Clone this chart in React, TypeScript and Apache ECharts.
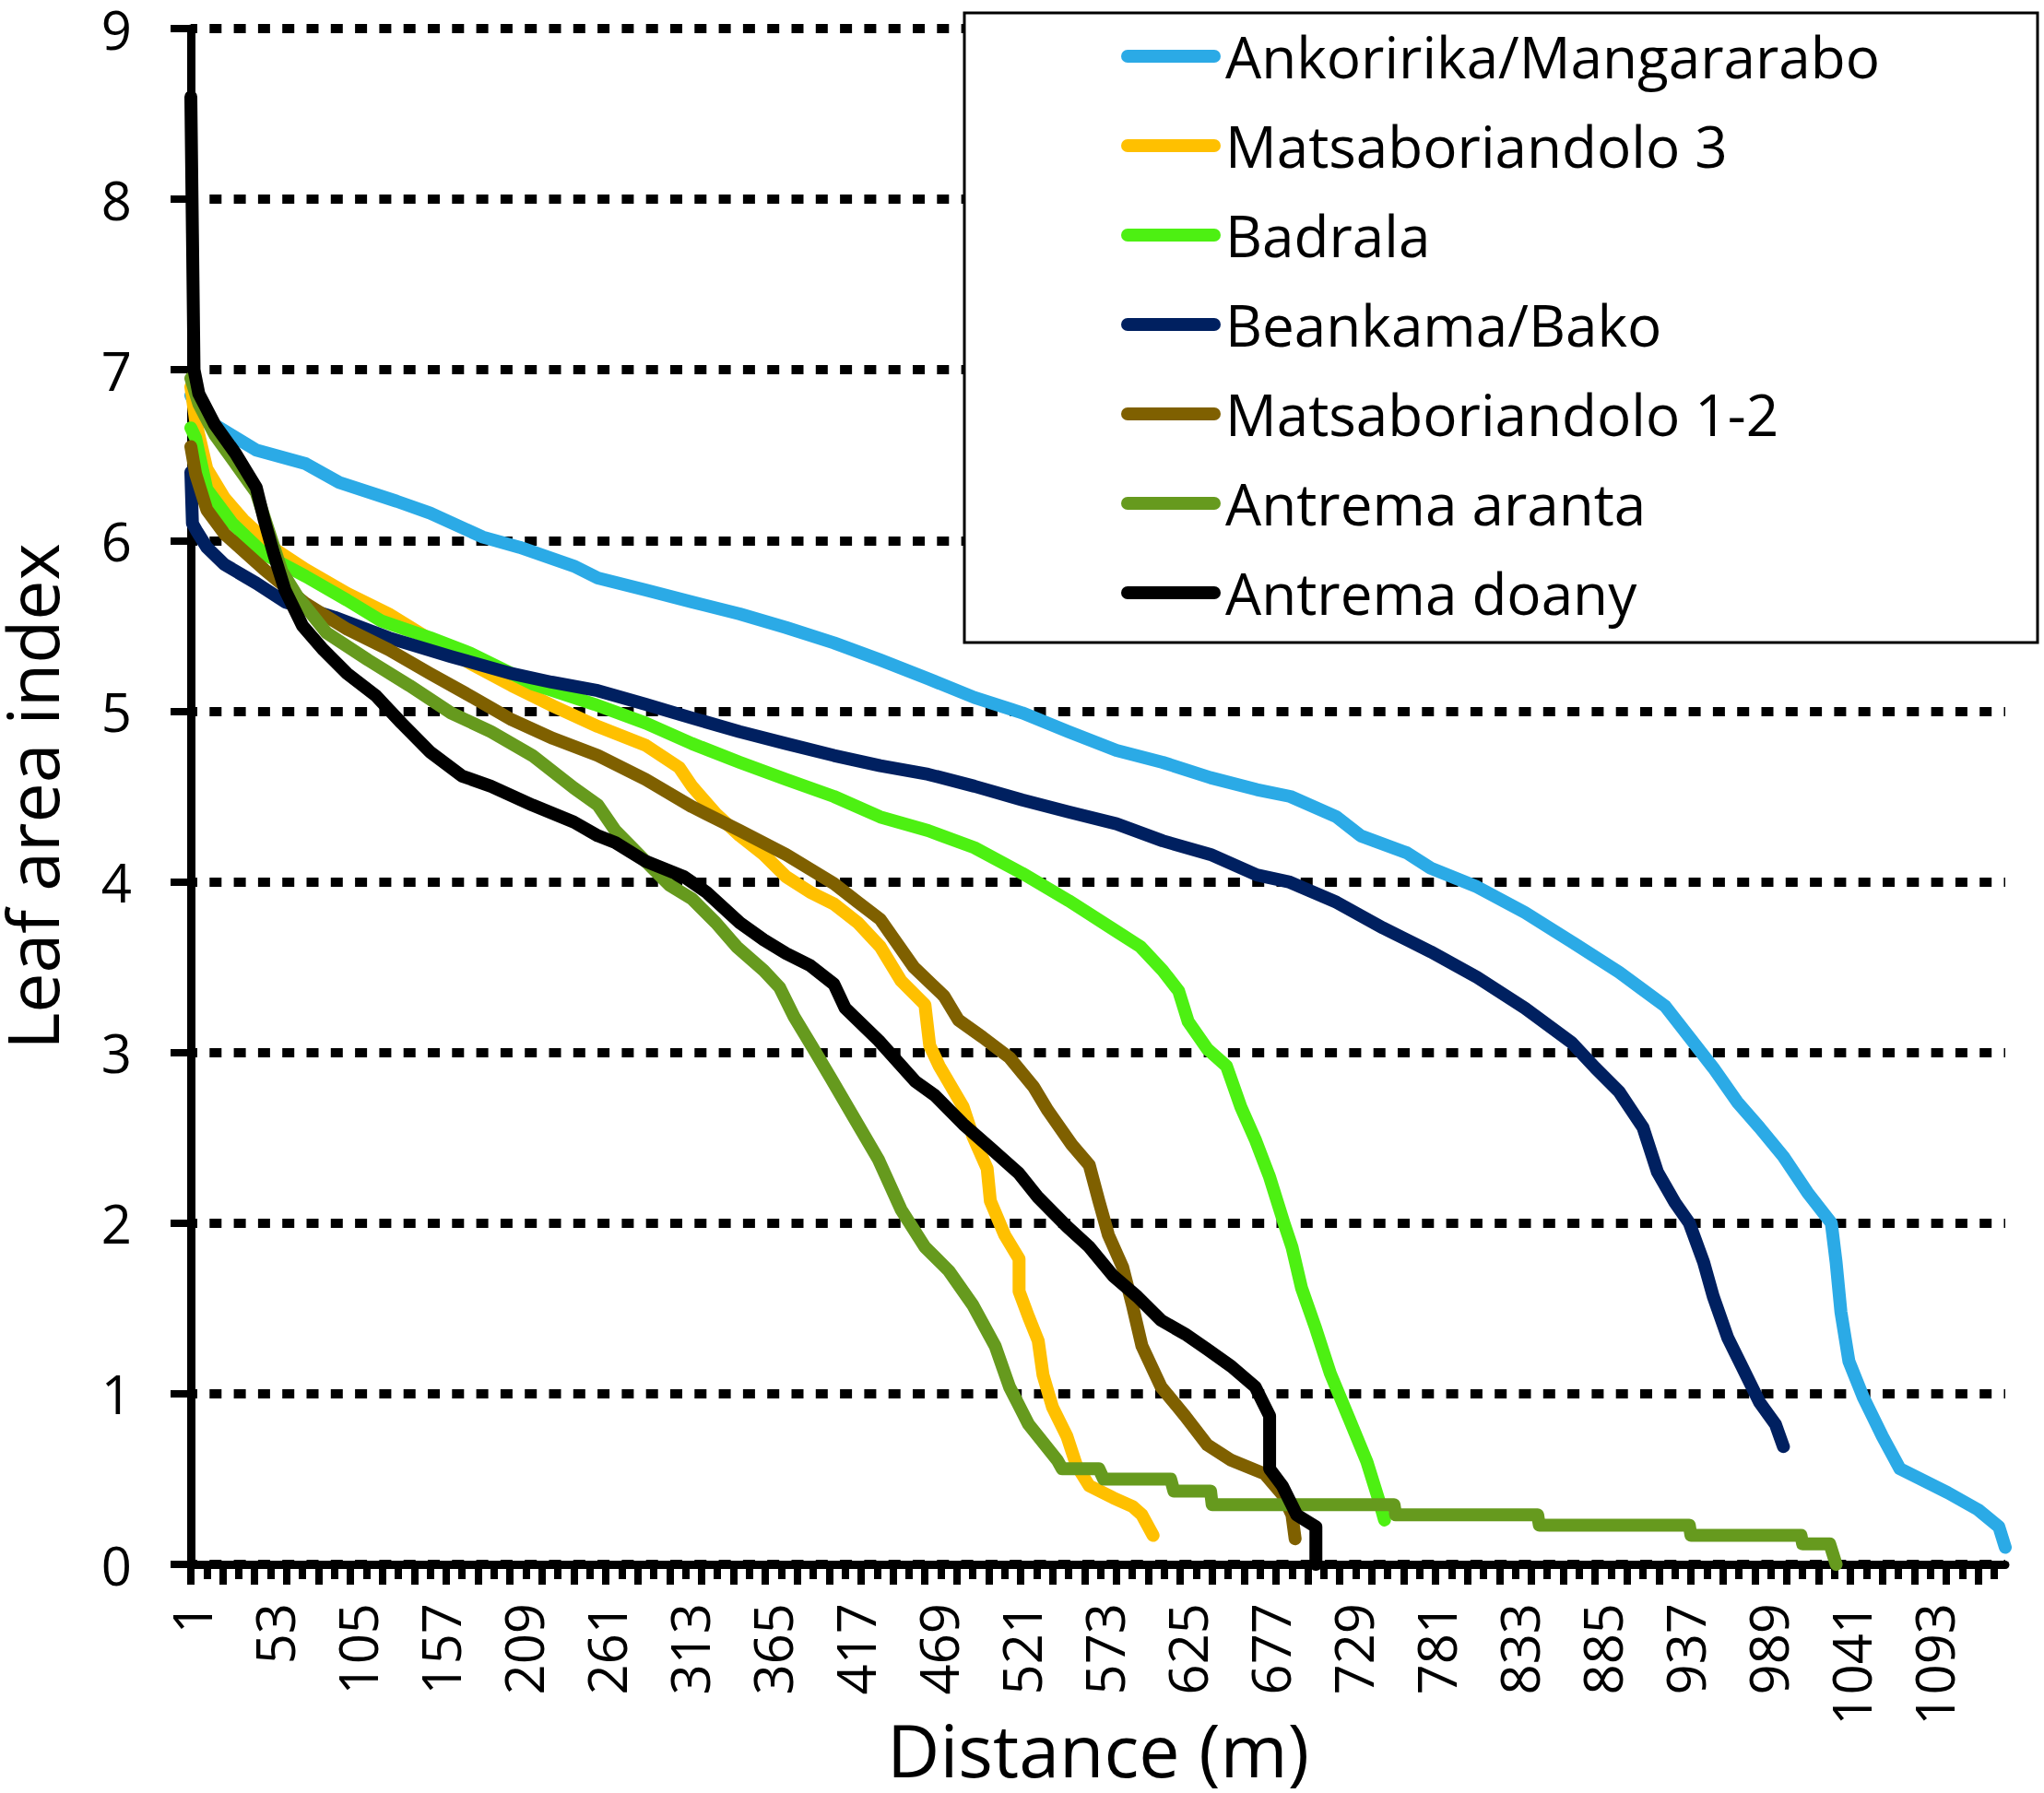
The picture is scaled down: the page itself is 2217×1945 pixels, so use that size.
import React, { useEffect, useRef } from "react";
import * as echarts from "echarts";

const FONT = "'Open Sans', 'Noto Sans', sans-serif";
const CATEGORY_COUNT = 1138;
const distances: string[] = Array.from({ length: CATEGORY_COUNT }, (_, i) => String(i + 1));

const seriesNames = [
  "Ankoririka/Mangararabo",
  "Matsaboriandolo 3",
  "Badrala",
  "Beankama/Bako",
  "Matsaboriandolo 1-2",
  "Antrema aranta",
  "Antrema doany",
];
const seriesColors = ["#2BAAE6", "#FFC000", "#4DF012", "#002060", "#7F6000", "#669A1E", "#000000"];

const ankoririka: [number, number][] = [
  [1, 6.85], [8, 6.72], [19, 6.66], [42, 6.53], [73, 6.45], [94, 6.34], [130, 6.23], [151, 6.16],
  [184, 6.02], [207, 5.96], [241, 5.85], [256, 5.78], [286, 5.71], [315, 5.64], [345, 5.57],
  [374, 5.49], [404, 5.4], [433, 5.3], [463, 5.19], [492, 5.08], [522, 4.99], [551, 4.88],
  [581, 4.77], [610, 4.7], [640, 4.61], [669, 4.54], [690, 4.5], [719, 4.38], [734, 4.27],
  [763, 4.17], [778, 4.08], [807, 3.97], [837, 3.82], [866, 3.65], [896, 3.47], [925, 3.27],
  [940, 3.09], [955, 2.91], [970, 2.71], [984, 2.56], [999, 2.39], [1014, 2.18], [1029, 2.0],
  [1032, 1.77], [1035, 1.48], [1040, 1.19], [1049, 0.98], [1061, 0.75], [1072, 0.56], [1085, 0.5],
  [1102, 0.42], [1121, 0.32], [1134, 0.22], [1138, 0.1],
];
const matsabo3: [number, number][] = [
  [1, 6.9], [4, 6.7], [11, 6.42], [22, 6.25], [34, 6.12], [55, 5.94], [73, 5.83], [99, 5.69],
  [125, 5.57], [151, 5.42], [176, 5.28], [202, 5.15], [228, 5.03], [256, 4.91], [286, 4.8],
  [307, 4.67], [315, 4.56], [330, 4.4], [345, 4.27], [360, 4.16], [374, 4.03], [389, 3.94],
  [404, 3.87], [419, 3.76], [433, 3.62], [446, 3.42], [461, 3.28], [464, 3.04], [470, 2.92],
  [485, 2.68], [491, 2.51], [500, 2.32], [502, 2.13], [511, 1.93], [520, 1.79], [520, 1.6],
  [526, 1.45], [532, 1.31], [535, 1.11], [541, 0.92], [550, 0.75], [556, 0.58], [564, 0.46],
  [579, 0.39], [591, 0.34], [597, 0.29], [604, 0.17],
];
const badrala: [number, number][] = [
  [1, 6.66], [4, 6.6], [11, 6.3], [27, 6.1], [47, 5.92], [73, 5.79], [99, 5.65], [120, 5.53],
  [151, 5.43], [176, 5.34], [215, 5.16], [254, 5.04], [286, 4.93], [315, 4.81], [345, 4.7],
  [374, 4.6], [404, 4.5], [433, 4.38], [463, 4.3], [492, 4.2], [522, 4.05], [551, 3.89],
  [581, 3.71], [596, 3.62], [610, 3.48], [620, 3.36], [626, 3.18], [638, 3.02], [650, 2.92],
  [659, 2.68], [668, 2.49], [677, 2.27], [686, 2.0], [691, 1.86], [697, 1.62], [706, 1.38],
  [715, 1.12], [727, 0.85], [738, 0.6], [746, 0.36], [749, 0.26],
];
const beankama: [number, number][] = [
  [1, 6.4], [2, 6.1], [5, 6.05], [11, 5.96], [22, 5.86], [42, 5.75], [60, 5.64], [91, 5.55],
  [125, 5.43], [164, 5.32], [202, 5.22], [227, 5.17], [256, 5.12], [286, 5.04], [315, 4.96],
  [345, 4.88], [374, 4.81], [404, 4.74], [433, 4.68], [463, 4.63], [492, 4.56], [522, 4.48],
  [551, 4.41], [581, 4.34], [610, 4.24], [640, 4.16], [669, 4.04], [689, 4.0], [719, 3.88],
  [748, 3.73], [778, 3.59], [807, 3.44], [837, 3.26], [866, 3.06], [881, 2.91], [896, 2.77],
  [911, 2.56], [920, 2.3], [931, 2.12], [940, 2.0], [949, 1.77], [955, 1.57], [964, 1.33],
  [973, 1.16], [984, 0.95], [994, 0.82], [999, 0.69],
];
const matsabo12: [number, number][] = [
  [1, 6.55], [4, 6.39], [11, 6.18], [22, 6.04], [47, 5.83], [73, 5.63], [99, 5.48], [125, 5.36],
  [151, 5.22], [176, 5.09], [202, 4.95], [228, 4.84], [256, 4.74], [286, 4.6], [315, 4.44],
  [345, 4.3], [374, 4.16], [404, 3.99], [419, 3.88], [433, 3.78], [442, 3.66], [454, 3.5],
  [473, 3.33], [482, 3.19], [497, 3.09], [514, 2.97], [529, 2.8], [538, 2.66], [553, 2.46],
  [564, 2.34], [570, 2.13], [576, 1.93], [585, 1.74], [591, 1.52], [597, 1.28], [609, 1.04],
  [624, 0.87], [638, 0.7], [653, 0.61], [674, 0.53], [685, 0.41], [691, 0.29], [693, 0.15],
];
const aranta: [number, number][] = [
  [1, 6.95], [6, 6.8], [16, 6.62], [29, 6.45], [42, 6.28], [50, 6.05], [58, 5.82], [68, 5.67],
  [86, 5.46], [112, 5.3], [138, 5.15], [164, 4.99], [189, 4.88], [215, 4.74], [241, 4.55],
  [256, 4.45], [267, 4.3], [286, 4.12], [301, 3.98], [315, 3.9], [330, 3.76], [343, 3.62],
  [360, 3.48], [370, 3.38], [379, 3.21], [390, 3.04], [402, 2.85], [417, 2.61], [432, 2.37],
  [446, 2.08], [461, 1.86], [476, 1.72], [491, 1.52], [505, 1.28], [514, 1.04], [526, 0.82],
  [544, 0.61], [547, 0.56], [570, 0.56], [573, 0.5], [615, 0.5], [617, 0.43], [640, 0.43],
  [641, 0.35], [755, 0.35], [756, 0.29], [845, 0.29], [846, 0.23], [940, 0.23], [941, 0.17],
  [1010, 0.17], [1011, 0.12], [1028, 0.12], [1032, 0.0],
];
const doany: [number, number][] = [
  [1, 8.6], [2, 7.8], [3, 7.0], [6, 6.86], [16, 6.68], [29, 6.51], [42, 6.31], [47, 6.12],
  [53, 5.92], [60, 5.71], [71, 5.5], [84, 5.36], [99, 5.22], [117, 5.09], [133, 4.93],
  [151, 4.76], [171, 4.62], [189, 4.56], [215, 4.45], [241, 4.35], [256, 4.27], [267, 4.23],
  [286, 4.12], [310, 4.03], [324, 3.94], [345, 3.76], [360, 3.66], [374, 3.58], [389, 3.51],
  [404, 3.4], [411, 3.26], [432, 3.07], [455, 2.83], [467, 2.75], [485, 2.58], [502, 2.44],
  [520, 2.29], [532, 2.15], [550, 1.98], [564, 1.86], [579, 1.69], [594, 1.57], [609, 1.43],
  [624, 1.35], [638, 1.26], [653, 1.16], [668, 1.04], [677, 0.87], [677, 0.56], [685, 0.46],
  [694, 0.29], [706, 0.22], [706, 0.0],
];

const allSeries = [ankoririka, matsabo3, badrala, beankama, matsabo12, aranta, doany];
const yTicks = [0, 1, 2, 3, 4, 5, 6, 7, 8, 9];

export default function App() {
  const ref = useRef<HTMLDivElement>(null);
  useEffect(() => {
    if (!ref.current) return;
    const chart = echarts.init(ref.current, undefined, { renderer: "svg" });
    const option = {
      animation: false,
      backgroundColor: "#ffffff",
      textStyle: { fontFamily: FONT },
      grid: {
        left: 207,
        top: 31,
        right: 42,
        bottom: 248,
        containLabel: false,
        outerBoundsMode: "none",
      },
      xAxis: [
        {
          type: "category",
          data: distances,
          boundaryGap: false,
          position: "bottom",
          name: "Distance (m)",
          nameLocation: "middle",
          nameGap: 160,
          nameMoveOverlap: false,
          nameTextStyle: { fontSize: 79, color: "#000", fontFamily: FONT, lineHeight: 80 },
          axisLine: { show: true, lineStyle: { color: "#000", width: 9 } },
          axisTick: { show: true, interval: 19, length: 22, lineStyle: { color: "#000", width: 8 } },
          axisLabel: {
            show: true,
            interval: 51,
            rotate: 90,
            margin: 42,
            fontSize: 58,
            color: "#000",
            fontFamily: FONT,
          },
          splitLine: { show: false },
        },
        {
          type: "category",
          data: distances,
          boundaryGap: false,
          position: "bottom",
          axisLine: { show: false },
          axisTick: { show: true, interval: 9, length: 16, lineStyle: { color: "#000", width: 8 } },
          axisLabel: { show: false },
          splitLine: { show: false },
        },
      ],
      yAxis: {
        type: "value",
        min: yTicks[0],
        max: yTicks[yTicks.length - 1],
        interval: 1,
        name: "Leaf area index",
        nameLocation: "middle",
        nameGap: 143,
        nameMoveOverlap: false,
        nameTextStyle: { fontSize: 77, color: "#000", fontFamily: FONT, lineHeight: 60 },
        axisLine: { show: true, lineStyle: { color: "#000", width: 9 } },
        axisTick: { show: true, length: 22, lineStyle: { color: "#000", width: 8 } },
        axisLabel: { margin: 64, fontSize: 58, lineHeight: 50, color: "#000", fontFamily: FONT },
        splitLine: {
          show: true,
          lineStyle: { color: "#000", width: 10, type: [13, 13.3], dashOffset: 6 },
        },
      },
      legend: {
        show: true,
        orient: "vertical",
        left: 1211,
        top: 21,
        itemWidth: 108,
        itemHeight: 14,
        itemGap: 27,
        z: 10,
        icon: "path://M7,0H101A7,7,0,0,1,101,14H7A7,7,0,0,1,7,0Z",
        textStyle: { fontSize: 62, color: "#000", fontFamily: FONT, lineHeight: 70 },
        data: seriesNames,
      },
      graphic: [
        {
          type: "rect",
          z: 5,
          shape: { x: 1046, y: 14, width: 1164, height: 683 },
          style: { fill: "#ffffff", stroke: "#000000", lineWidth: 3 },
        },
      ],
      series: allSeries.map((pts, i) => ({
        name: seriesNames[i],
        type: "line",
        xAxisIndex: 0,
        yAxisIndex: 0,
        data: pts.map(([d, v]) => [String(d), v]),
        showSymbol: false,
        symbol: "none",
        color: seriesColors[i],
        lineStyle: { color: seriesColors[i], width: 14, cap: "round", join: "round" },
        z: 2 + i,
      })),
    };
    chart.setOption(option as any);
    return () => chart.dispose();
  }, []);
  return (
    <div
      ref={ref}
      style={{ position: "absolute", left: 0, top: 0, width: 2217, height: 1945 }}
    />
  );
}
